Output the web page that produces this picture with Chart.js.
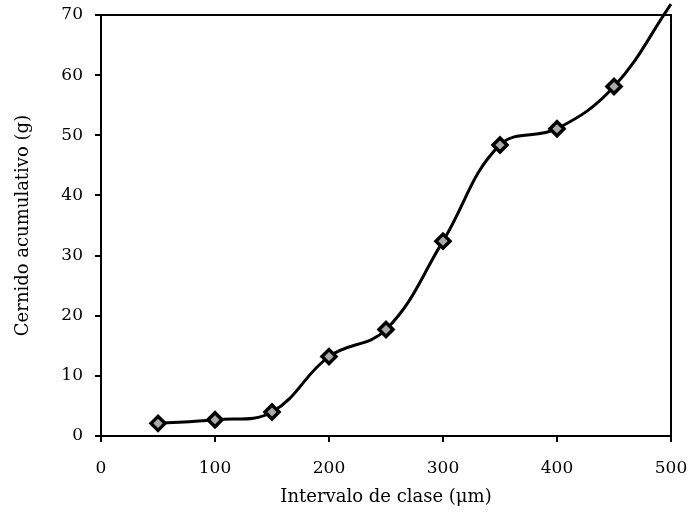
<!DOCTYPE html>
<html>
<head>
<meta charset="utf-8">
<script src="https://cdn.jsdelivr.net/npm/chart.js@4"></script>
<style>
  html, body { margin: 0; padding: 0; background: #fff; }
  #wrap { width: 691px; height: 521px; }
</style>
</head>
<body>
<div id="wrap"><canvas id="sieveChart" width="691" height="521"></canvas></div>
<script>
// particle size classes (µm) and cumulative sieved mass (g)
const sizes = [50, 100, 150, 200, 250, 300, 350, 400, 450, 500];
const cumulative = [2.1, 2.7, 4.0, 13.2, 17.7, 32.4, 48.4, 51.1, 58.1, 71.8];
// the last value has no marker, the line just runs out of the box
const markerSizes = [7, 7, 7, 7, 7, 7, 7, 7, 7, 0];
const xTicks = [0, 100, 200, 300, 400, 500];
const yTicks = [0, 10, 20, 30, 40, 50, 60, 70];

const serif = "'DejaVu Serif', 'Liberation Serif', serif";

// closes the box on the top and right sides
const frameBox = {
    id: 'frameBox',
    afterDraw(chart) {
        const a = chart.chartArea;
        const c = chart.ctx;
        c.save();
        c.strokeStyle = '#000';
        c.lineWidth = 2;
        c.beginPath();
        c.moveTo(a.left, a.top);
        c.lineTo(a.right, a.top);
        c.lineTo(a.right, a.bottom);
        c.stroke();
        c.restore();
    }
};

document.addEventListener('DOMContentLoaded', function() {
    const ctx = document.getElementById('sieveChart').getContext('2d');

    new Chart(ctx, {
        type: 'line',
        data: {
            datasets: [{
                data: sizes.map((s, i) => ({ x: s, y: cumulative[i] })),
                borderColor: '#000',
                borderWidth: 3,
                tension: 0.4,
                pointStyle: 'rectRot',
                pointRadius: markerSizes,
                pointBorderWidth: 3.5,
                pointBorderColor: '#000',
                pointBackgroundColor: '#aaa',
                clip: false,
                fill: false
            }]
        },
        options: {
            responsive: false,
            animation: false,
            layout: { padding: { left: 0, top: 15, right: 20, bottom: 0 } },
            plugins: {
                legend: { display: false },
                tooltip: { enabled: false }
            },
            scales: {
                x: {
                    type: 'linear',
                    min: 0,
                    max: 500,
                    afterBuildTicks: s => { s.ticks = xTicks.map(v => ({ value: v })); },
                    afterFit: s => { s.height = 85; s.paddingLeft = 0; s.paddingRight = 0; },
                    border: { display: true, color: '#000', width: 2 },
                    grid: { drawOnChartArea: false, drawTicks: true, tickLength: 6, color: '#000', lineWidth: 2 },
                    ticks: { color: '#000', padding: 16, maxRotation: 0, font: { family: serif, size: 17 } },
                    title: {
                        display: true,
                        text: 'Intervalo de clase (μm)',
                        color: '#000',
                        padding: { top: 0, bottom: 13 },
                        font: { family: serif, size: 18 }
                    }
                },
                y: {
                    min: 0,
                    max: 70,
                    afterBuildTicks: s => { s.ticks = yTicks.map(v => ({ value: v })); },
                    afterFit: s => { s.width = 101; s.paddingTop = 0; s.paddingBottom = 0; },
                    border: { display: true, color: '#000', width: 2 },
                    grid: { drawOnChartArea: false, drawTicks: true, tickLength: 6, color: '#000', lineWidth: 2 },
                    ticks: { color: '#000', padding: 12, font: { family: serif, size: 17 } },
                    title: {
                        display: true,
                        text: 'Cernido acumulativo (g)',
                        color: '#000',
                        padding: { top: 13, bottom: 0 },
                        font: { family: serif, size: 18 }
                    }
                }
            }
        },
        plugins: [frameBox]
    });
});
</script>
</body>
</html>
